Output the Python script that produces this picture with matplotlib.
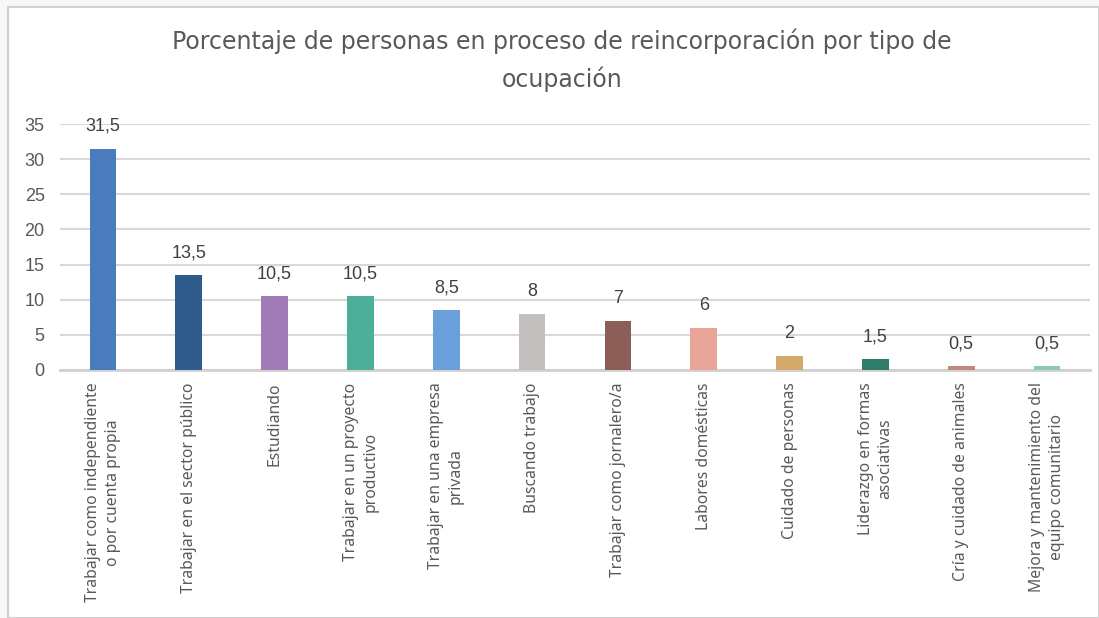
import matplotlib.pyplot as plt
from matplotlib.patches import Rectangle

# Data
categories = [
    "Trabajar como independiente\no por cuenta propia",
    "Trabajar en el sector público",
    "Estudiando",
    "Trabajar en un proyecto\nproductivo",
    "Trabajar en una empresa\nprivada",
    "Buscando trabajo",
    "Trabajar como jornalero/a",
    "Labores domésticas",
    "Cuidado de personas",
    "Liderazgo en formas\nasociativas",
    "Cría y cuidado de animales",
    "Mejora y mantenimiento del\nequipo comunitario",
]
values = [31.5, 13.5, 10.5, 10.5, 8.5, 8, 7, 6, 2, 1.5, 0.5, 0.5]
bar_colors = ["#4a7bbd", "#2e5b8c", "#a07bb5", "#4caf9a", "#6a9fdc", "#c4bfbf",
              "#8b5e57", "#e8a598", "#d4a96a", "#2e7d6b", "#c08b7c", "#8fc9ae"]
title = "Porcentaje de personas en proceso de reincorporación por tipo de\nocupación"

text_color = "#595959"

fig = plt.figure(figsize=(10.99, 6.18), dpi=100)
fig.patch.set_facecolor("#f7f7f7")
# chart area frame
frame = Rectangle((8 / 1099, 0), 1 - 8 / 1099, 1 - 7 / 618, transform=fig.transFigure,
                  facecolor="white", edgecolor="#d0d0d0", linewidth=1.5, zorder=-5)
fig.patches.append(frame)

ax = fig.add_axes([60 / 1099, 1 - 370 / 618, 1030 / 1099, 246 / 618])
ax.set_zorder(2)
ax.set_facecolor("none")

x = list(range(len(categories)))
bars = ax.bar(x, values, width=0.31, color=bar_colors, zorder=3)

for xi, v in zip(x, values):
    label = f"{v:g}".replace(".", ",")
    ax.annotate(label, (xi, v), xytext=(0, 10), textcoords="offset points",
                ha="center", va="bottom", fontsize=13, color="#404040",
                family="Liberation Sans")

ax.set_xlim(-0.5, len(categories) - 0.5)
ax.set_ylim(0, 35)
ax.set_yticks(range(0, 36, 5))
ax.yaxis.grid(True, color="#d9d9d9", linewidth=1.5, zorder=0)
ax.set_axisbelow(True)
for s in ["top", "right", "left"]:
    ax.spines[s].set_visible(False)
ax.spines["bottom"].set_color("#d0d0d0")
ax.spines["bottom"].set_linewidth(2)
ax.tick_params(axis="both", length=0, colors=text_color)
ax.tick_params(axis="y", pad=11)
for lbl in ax.get_yticklabels():
    lbl.set_family("Liberation Sans")
    lbl.set_fontsize(13)

ax.set_xticks(x)
ax.set_xticklabels(categories, rotation=90, ha="center", va="top",
                   multialignment="center", fontsize=11.3, family="Noto Sans",
                   color=text_color, linespacing=1.3)
ax.tick_params(axis="x", pad=9)

fig.text(562 / 1099, 1 - 60 / 618, title, ha="center", va="center", fontsize=17,
         color=text_color, family="DejaVu Sans", linespacing=1.6)

plt.savefig("out.png", dpi=100, facecolor=fig.get_facecolor())
